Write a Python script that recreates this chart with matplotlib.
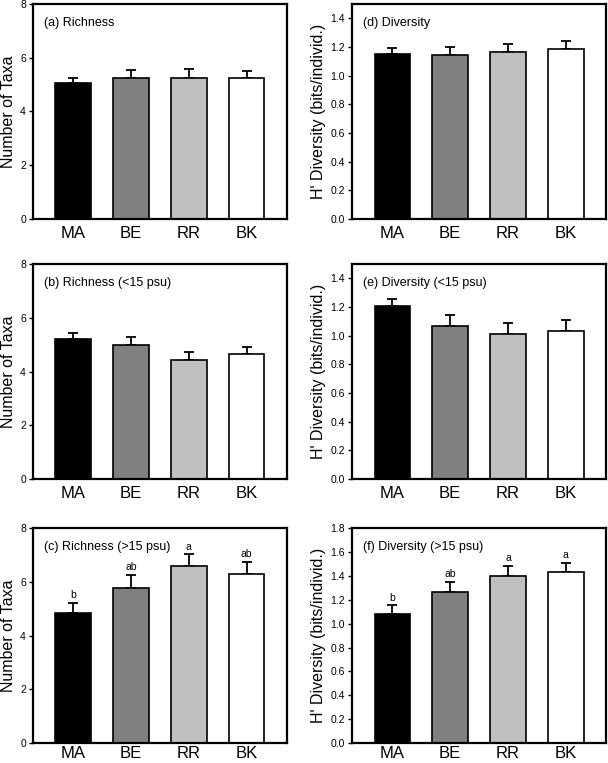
import matplotlib
matplotlib.use("Agg")
import matplotlib.pyplot as plt

plt.rcParams['font.family'] = ['Liberation Sans', 'DejaVu Sans']

sites = ["MA", "BE", "RR", "BK"]
bar_colors = ["#000000", "#808080", "#c0c0c0", "#ffffff"]

# richness (number of taxa): means and upper error-bar lengths
rich_all = [5.05, 5.26, 5.26, 5.25]
rich_all_err = [0.21, 0.29, 0.31, 0.27]
rich_low = [5.22, 4.97, 4.42, 4.65]
rich_low_err = [0.21, 0.32, 0.31, 0.28]
rich_high = [4.84, 5.76, 6.59, 6.30]
rich_high_err = [0.38, 0.51, 0.43, 0.45]
rich_high_letters = ["b", "ab", "a", "ab"]

# H' diversity
div_all = [1.151, 1.142, 1.165, 1.186]
div_all_err = [0.04, 0.058, 0.058, 0.058]
div_low = [1.207, 1.070, 1.009, 1.033]
div_low_err = [0.051, 0.072, 0.077, 0.076]
div_high = [1.077, 1.262, 1.401, 1.432]
div_high_err = [0.076, 0.089, 0.081, 0.075]
div_high_letters = ["b", "ab", "a", "a"]

rich_ticks = [0, 2, 4, 6, 8]
div_ticks = [0, 0.2, 0.4, 0.6, 0.8, 1.0, 1.2, 1.4]
div_ticks_f = div_ticks + [1.6, 1.8]

panels = [
    # (position, values, errors, letters, title, ylabel, ytop, yticks, fmt, xpad)
    ([0.054, 0.713, 0.418, 0.282], rich_all, rich_all_err, None, "(a) Richness",
     "Number of Taxa", 8, rich_ticks, "{:.0f}", 5),
    ([0.054, 0.372, 0.418, 0.282], rich_low, rich_low_err, None, "(b) Richness (<15 psu)",
     "Number of Taxa", 8, rich_ticks, "{:.0f}", 5),
    ([0.054, 0.026, 0.418, 0.282], rich_high, rich_high_err, rich_high_letters, "(c) Richness (>15 psu)",
     "Number of Taxa", 8, rich_ticks, "{:.0f}", 2),
    ([0.579, 0.713, 0.418, 0.282], div_all, div_all_err, None, "(d) Diversity",
     "H' Diversity (bits/individ.)", 1.5, div_ticks, "{:.1f}", 5),
    ([0.579, 0.372, 0.418, 0.282], div_low, div_low_err, None, "(e) Diversity (<15 psu)",
     "H' Diversity (bits/individ.)", 1.5, div_ticks, "{:.1f}", 5),
    ([0.579, 0.026, 0.418, 0.282], div_high, div_high_err, div_high_letters, "(f) Diversity (>15 psu)",
     "H' Diversity (bits/individ.)", 1.8, div_ticks_f, "{:.1f}", 2),
]

fig = plt.figure(figsize=(6.08, 7.63), dpi=100)

for pos, vals, errs, letters, title, ylabel, ytop, yticks, fmt, xpad in panels:
    ax = fig.add_axes(pos)
    x = list(range(len(sites)))
    ax.bar(x, vals, width=0.62, color=bar_colors, edgecolor="black", linewidth=1.2, zorder=2)
    ax.errorbar(x, vals, yerr=[[0] * len(errs), errs], fmt="none", ecolor="black",
                elinewidth=1.3, capsize=3.5, capthick=1.3, zorder=1)
    ax.set_xlim(-0.7, 3.7)
    ax.set_ylim(0, ytop)
    ax.set_xticks(x)
    ax.set_xticklabels(sites, fontsize=12)
    ax.tick_params(axis="x", length=0, pad=xpad)
    ax.set_yticks(yticks)
    ax.set_yticklabels([fmt.format(t) for t in yticks], fontsize=7.5)
    ax.tick_params(axis="y", length=3, width=1, direction="out", pad=2)
    ax.set_ylabel(ylabel, fontsize=11.5, labelpad=3)
    for s in ax.spines.values():
        s.set_linewidth(1.6)
    ax.text(0.045, 0.91, title, transform=ax.transAxes, fontsize=9, va="center", ha="left")
    if letters:
        for xi, v, e, lab in zip(x, vals, errs, letters):
            ax.annotate(lab, (xi, v + e), xytext=(0, 2), textcoords="offset points",
                        ha="center", va="bottom", fontsize=7.5)

fig.savefig("out.png", dpi=100)
